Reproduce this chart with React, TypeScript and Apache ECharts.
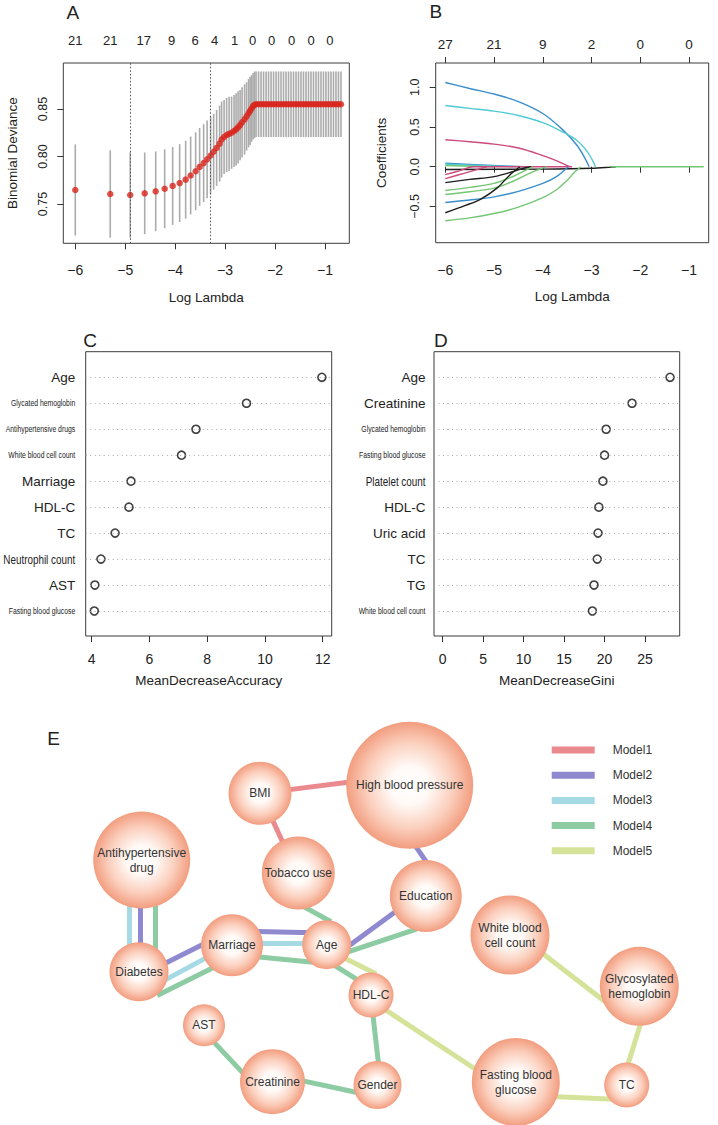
import { useEffect, useRef } from 'react';
import * as echarts from 'echarts';

const FONT = "'Liberation Sans', Arial, Helvetica, sans-serif";
const INK = '#222';

// ---------------- Panel A: cross-validated binomial deviance ----------------
const cvLogLambda = [
  -6.0, -5.3, -4.9, -4.61, -4.39, -4.21, -4.05, -3.91, -3.79, -3.69,
  -3.59, -3.51, -3.43, -3.36, -3.29, -3.23, -3.17, -3.11, -3.07, -3.02,
  -2.97, -2.92, -2.87, -2.82, -2.78, -2.74, -2.7, -2.66, -2.61, -2.57,
  -2.53, -2.5, -2.47, -2.44, -2.41,
  -2.38, -2.33, -2.28, -2.23, -2.18, -2.13, -2.08, -2.03, -1.98, -1.93,
  -1.88, -1.83, -1.78, -1.73, -1.68, -1.63, -1.58, -1.53, -1.48, -1.43,
  -1.38, -1.33, -1.28, -1.23, -1.18, -1.13, -1.08, -1.03, -0.98, -0.93,
  -0.88, -0.83, -0.78, -0.73, -0.68,
];
const cvDeviance = [
  0.7647, 0.7605, 0.7595, 0.7612, 0.7633, 0.766, 0.769, 0.772, 0.7756, 0.78,
  0.7844, 0.789, 0.793, 0.797, 0.801, 0.805, 0.809, 0.8135, 0.8179, 0.8205,
  0.8226, 0.8238, 0.825, 0.8268, 0.8285, 0.8307, 0.833, 0.836, 0.839, 0.8422,
  0.8455, 0.848, 0.8505, 0.853, 0.8545,
  0.855, 0.855, 0.855, 0.855, 0.855, 0.855, 0.855, 0.855, 0.855, 0.855,
  0.855, 0.855, 0.855, 0.855, 0.855, 0.855, 0.855, 0.855, 0.855, 0.855,
  0.855, 0.855, 0.855, 0.855, 0.855, 0.855, 0.855, 0.855, 0.855, 0.855,
  0.855, 0.855, 0.855, 0.855, 0.855,
];
const cvSE = [
  0.048, 0.046, 0.045, 0.043, 0.042, 0.0415, 0.041, 0.041, 0.041, 0.041,
  0.041, 0.041, 0.041, 0.041, 0.041, 0.04, 0.04, 0.04, 0.04, 0.039,
  0.039, 0.039, 0.038, 0.038, 0.038, 0.038, 0.037, 0.037, 0.037, 0.036,
  0.036, 0.036, 0.035, 0.035, 0.035,
  0.0345, 0.0345, 0.0345, 0.0345, 0.0345, 0.0345, 0.0345, 0.0345, 0.0345, 0.0345,
  0.0345, 0.0345, 0.0345, 0.0345, 0.0345, 0.0345, 0.0345, 0.0345, 0.0345, 0.0345,
  0.0345, 0.0345, 0.0345, 0.0345, 0.0345, 0.0345, 0.0345, 0.0345, 0.0345, 0.0345,
  0.0345, 0.0345, 0.0345, 0.0345, 0.0345,
];
const cvTopPos = [-6, -5.3, -4.63, -4.07, -3.6, -3.21, -2.81, -2.45, -2.07, -1.67, -1.28, -0.9];
const cvTopLabels = ['21', '21', '17', '9', '6', '4', '1', '0', '0', '0', '0', '0'];
const lambdaMinLog = -4.9;
const lambda1seLog = -3.29;
const logLambdaTicks = [-6, -5, -4, -3, -2, -1];
const devianceTicks = [0.75, 0.8, 0.85];

// ---------------- Panel B: coefficient paths ----------------
const coefTopPos = [-6, -5, -4, -3, -2, -1];
const coefTopLabels = ['27', '21', '9', '2', '0', '0'];
const coefTicks = [-0.5, 0, 0.5, 1];
const coefPaths: number[][][] = [
  [[-6, 1.06], [-5.5, 0.985], [-5, 0.915], [-4.5, 0.82], [-4, 0.67], [-3.6, 0.47], [-3.3, 0.27], [-3.12, 0.09], [-3.05, 0]],
  [[-6, 0.77], [-5.5, 0.735], [-5, 0.7], [-4.5, 0.645], [-4, 0.555], [-3.6, 0.44], [-3.3, 0.33], [-3.1, 0.2], [-2.98, 0.08], [-2.92, 0]],
  [[-6, 0.34], [-5.5, 0.315], [-5, 0.285], [-4.5, 0.235], [-4, 0.14], [-3.7, 0.07], [-3.52, 0.02], [-3.44, 0]],
  [[-6, 0.045], [-5.5, 0.03], [-4.8, 0.01], [-4.4, 0]],
  [[-6, 0.03], [-5.2, 0.012], [-4.6, 0]],
  [[-6, 0.015], [-5.4, 0.005], [-5, 0]],
  [[-6, -0.035], [-4, -0.03], [-3, -0.02], [-2.6, -0.005], [-2.5, 0]],
  [[-6, -0.1], [-5.7, -0.05], [-5.42, 0], [-3.4, 0]],
  [[-6, -0.15], [-5.6, -0.08], [-5.15, 0]],
  [[-6, -0.2], [-5.5, -0.16], [-5, -0.125], [-4.6, -0.06], [-4.4, -0.02], [-4.24, 0]],
  [[-6, -0.3], [-5.5, -0.26], [-5, -0.21], [-4.6, -0.12], [-4.4, -0.06], [-4.2, 0]],
  [[-6, -0.35], [-5.5, -0.315], [-5, -0.27], [-4.6, -0.18], [-4.26, -0.08], [-3.92, 0]],
  [[-6, -0.45], [-5.5, -0.42], [-5, -0.38], [-4.5, -0.31], [-4, -0.21], [-3.72, -0.125], [-3.48, 0]],
  [[-6, -0.58], [-5.6, -0.49], [-5.28, -0.41], [-4.94, -0.27], [-4.67, -0.1], [-4.47, 0]],
  [[-6, -0.68], [-5.5, -0.645], [-5, -0.59], [-4.5, -0.51], [-4, -0.39], [-3.72, -0.29], [-3.5, -0.17], [-3.35, -0.07], [-3.22, 0]],
  [[-2.6, 0], [-0.7, 0]],
];
const BLUE = '#3a8ecb', CYAN = '#4fcad2', PINK = '#cc4a7c', GREEN = '#73c673', BLACK = '#1e1e1e';
const coefColors = [BLUE, CYAN, PINK, BLUE, CYAN, GREEN, BLACK, PINK, PINK, BLACK, GREEN, GREEN, BLUE, BLACK, GREEN, GREEN];

// ---------------- Panel C: MeanDecreaseAccuracy ----------------
const accNames = ['Age', 'Glycated hemoglobin', 'Antihypertensive drugs', 'White blood cell count', 'Marriage', 'HDL-C', 'TC', 'Neutrophil count', 'AST', 'Fasting blood glucose'];
const accValues = [11.97, 9.36, 7.61, 7.11, 5.36, 5.29, 4.81, 4.32, 4.11, 4.09];
const accTicks = [4, 6, 8, 10, 12];

// ---------------- Panel D: MeanDecreaseGini ----------------
const giniNames = ['Age', 'Creatinine', 'Glycated hemoglobin', 'Fasting blood glucose', 'Platelet count', 'HDL-C', 'Uric acid', 'TC', 'TG', 'White blood cell count'];
const giniValues = [28.1, 23.4, 20.2, 20.0, 19.8, 19.3, 19.2, 19.1, 18.7, 18.5];
const giniTicks = [0, 5, 10, 15, 20, 25];

// label style classes (styles kept apart from data)
const smallLabels = new Set(['Glycated hemoglobin', 'Antihypertensive drugs', 'White blood cell count', 'Fasting blood glucose']);
const narrowLabels = new Set(['Neutrophil count', 'Platelet count']);

// ---------------- Panel E: network ----------------
const nodeNames = ['BMI', 'High blood pressure', 'Tobacco use', 'Antihypertensive drug', 'Education', 'Marriage', 'Age', 'Diabetes', 'HDL-C', 'AST', 'Creatinine', 'Gender', 'White blood cell count', 'Glycosylated hemoglobin', 'Fasting blood glucose', 'TC'];
const nodeLabels = ['BMI', 'High blood pressure', 'Tobacco use', 'Antihypertensive\ndrug', 'Education', 'Marriage', 'Age', 'Diabetes', 'HDL-C', 'AST', 'Creatinine', 'Gender', 'White blood\ncell count', 'Glycosylated\nhemoglobin', 'Fasting blood\nglucose', 'TC'];
const nodeLayout = [
  [220, 93.3], [369.7, 85.3], [258.3, 173], [101.7, 160], [385.8, 196], [192, 245.3], [286.7, 244.7], [99, 271.7],
  [331, 295], [164, 325.3], [232.5, 381.7], [337.5, 385], [470, 235], [599.3, 286.3], [475.8, 382], [586.7, 385],
];
const nodeSize = [63, 127, 73, 97, 72, 62, 49, 59, 45, 42, 65, 48, 79, 79, 88, 45];
const modelNames = ['Model1', 'Model2', 'Model3', 'Model4', 'Model5'];
const modelColors = ['#ea8a8f', '#8f89cf', '#a5d9e4', '#8dcba2', '#d4e399'];
const edges: [string, string, number][] = [
  ['BMI', 'High blood pressure', 1],
  ['BMI', 'Tobacco use', 1],
  ['High blood pressure', 'Education', 2],
  ['Antihypertensive drug', 'Diabetes', 3],
  ['Antihypertensive drug', 'Diabetes', 2],
  ['Antihypertensive drug', 'Diabetes', 4],
  ['Diabetes', 'Marriage', 2],
  ['Diabetes', 'Marriage', 3],
  ['Diabetes', 'Marriage', 4],
  ['Marriage', 'Age', 2],
  ['Marriage', 'Age', 3],
  ['Marriage', 'Age', 4],
  ['Age', 'Education', 2],
  ['Age', 'Education', 4],
  ['Age', 'HDL-C', 4],
  ['Age', 'HDL-C', 5],
  ['Tobacco use', 'Age', 4],
  ['HDL-C', 'Gender', 4],
  ['Gender', 'Creatinine', 4],
  ['Creatinine', 'AST', 4],
  ['HDL-C', 'Fasting blood glucose', 5],
  ['Fasting blood glucose', 'TC', 5],
  ['TC', 'Glycosylated hemoglobin', 5],
  ['White blood cell count', 'Glycosylated hemoglobin', 5],
];
// where each edge leaves / meets its nodes, relative to node centres (layout)
const edgeAnchors = [
  [[26.7, -3.3], [-64.7, -2.6]],
  [[13.3, 28.4], [-16.6, -33]],
  [[6.3, 61.4], [-0.8, -36]],
  [[-12.4, 47], [-9.7, -26.7]],
  [[-1, 48], [1.7, -29.7]],
  [[13.3, 46], [16, -25.7]],
  [[29.3, -10], [-30.3, -0.3]],
  [[26, 8.3], [-23.7, 11.4]],
  [[22.7, 21.6], [-22, 24]],
  [[29.7, -13.6], [-18.7, -12]],
  [[29.7, -2], [-20, -1.4]],
  [[29.7, 12], [-18.7, 17]],
  [[23.3, 0.3], [-32.5, 17.3]],
  [[21.6, 7], [-14.1, 34.7]],
  [[10, 22], [-16, -16.7]],
  [[18.3, 13.6], [0.7, -23.3]],
  [[8.4, 35.3], [0, -25.4]],
  [[2.3, 23.3], [0.8, -23.3]],
  [[-24.2, 6.7], [34.2, 0]],
  [[-30.8, -10], [11, 18]],
  [[17.3, 16.7], [-39.1, -12]],
  [[40.9, 14.7], [-11.7, 14.3]],
  [[1.6, -21.7], [4, 28.7]],
  [[36, 21], [-30, 18.7]],
];

const minus = (v: number, d: number) => (v < 0 ? '\u2212' : '') + Math.abs(v).toFixed(d);
const near = (arr: number[], v: number) => arr.findIndex((a) => Math.abs(a - v) < 1e-6);
const rowValues = accNames.map((_, i) => accNames.length - i);

const C_XMIN = 3.792, D_XMIN = -1.075;

function letters(): any[] {
  const mk = (id: string, t: string, x: number, y: number) => ({
    id, type: 'text', x, y, style: { text: t, font: `19px ${FONT}`, fill: INK, textVerticalAlign: 'middle' },
  });
  return [mk('lA', 'A', 66.5, 12), mk('lB', 'B', 429.5, 11), mk('lC', 'C', 83.3, 340), mk('lD', 'D', 434, 340), mk('lE', 'E', 47.3, 738.5)];
}

// dot-chart row labels, placed with the chart's own scales (condensed text like the R output)
function rowLabels(chart: any): any[] {
  const out: any[] = [];
  const add = (names: string[], gridIndex: number, xmin: number, gap: number, prefix: string) => {
    names.forEach((name, i) => {
      const p = chart.convertToPixel({ gridIndex }, [xmin, rowValues[i]]);
      if (!p) return;
      const small = smallLabels.has(name);
      const narrow = narrowLabels.has(name);
      out.push({
        id: `${prefix}${i}`,
        type: 'text',
        x: p[0] - gap,
        y: p[1],
        scaleX: small ? 0.72 : narrow ? 0.76 : 1,
        scaleY: 1,
        silent: true,
        style: {
          text: name,
          x: 0,
          y: 0,
          font: `${small ? 9.5 : narrow ? 13 : 13.5}px ${FONT}`,
          fill: INK,
          textAlign: 'right',
          textVerticalAlign: 'middle',
        },
      });
    });
  };
  add(accNames, 2, C_XMIN, 10.5, 'rc');
  add(giniNames, 3, D_XMIN, 8.5, 'rd');
  return out;
}

function buildOption(): any {
  const tickStyle = { show: true, length: 6, lineStyle: { color: '#333', width: 1 } };
  const gridBox = { show: true, borderColor: '#3c3c3c', borderWidth: 1, backgroundColor: 'transparent' };

  const pos = (name: string) => nodeLayout[nodeNames.indexOf(name)];
  const edgeSeries = modelNames.map((m, mi) => {
    const data: any[] = [];
    edges.forEach(([s, t, model], ei) => {
      if (model !== mi + 1) return;
      const ps = pos(s), pt = pos(t);
      const [a, b] = edgeAnchors[ei];
      const x1 = ps[0] + a[0], y1 = ps[1] + a[1];
      const x2 = pt[0] + b[0], y2 = pt[1] + b[1];
      const L = Math.hypot(x2 - x1, y2 - y1) || 1;
      const ux = (x2 - x1) / L, uy = (y2 - y1) / L;
      data.push({ coords: [[x1 - 5 * ux, y1 - 5 * uy], [x2 + 5 * ux, y2 + 5 * uy]] });
    });
    return {
      name: m,
      type: 'lines',
      coordinateSystem: 'cartesian2d',
      xAxisIndex: 6,
      yAxisIndex: 4,
      z: 2,
      silent: true,
      itemStyle: { color: modelColors[mi] },
      lineStyle: { color: modelColors[mi], width: 5, opacity: 1, curveness: 0 },
      data,
    };
  });

  const nodeGradient = new echarts.graphic.RadialGradient(0.5, 0.5, 0.5, [
    { offset: 0, color: '#ffffff' },
    { offset: 0.3, color: '#fffaf7' },
    { offset: 0.68, color: '#fbcfbd' },
    { offset: 1, color: '#f29d7f' },
  ]);

  return {
    animation: false,
    backgroundColor: '#ffffff',
    textStyle: { fontFamily: FONT, color: INK },
    grid: [
      { left: 63.3, top: 63, width: 286, height: 180.3, ...gridBox },
      { left: 435.7, top: 63, width: 273, height: 179.7, ...gridBox },
      { left: 85.7, top: 351.7, width: 246, height: 284.3, ...gridBox },
      { left: 434, top: 351.7, width: 245.7, height: 284.3, ...gridBox },
      { left: 40, top: 700, width: 660, height: 425, show: false },
    ],
    xAxis: [
      {
        gridIndex: 0, type: 'value', min: -6.24, max: -0.513,
        name: 'Log Lambda', nameLocation: 'middle', nameGap: 47,
        nameTextStyle: { fontSize: 13.5, color: INK },
        axisLine: { show: false }, splitLine: { show: false },
        axisTick: { ...tickStyle, customValues: logLambdaTicks },
        axisLabel: { customValues: logLambdaTicks, formatter: (v: number) => minus(v, 0), fontSize: 14, color: INK, margin: 20 },
      },
      {
        gridIndex: 0, type: 'value', position: 'top', min: -6.24, max: -0.513,
        axisLine: { show: false }, axisTick: { show: false }, splitLine: { show: false },
        axisLabel: {
          customValues: cvTopPos, fontSize: 13, color: INK, margin: 16,
          formatter: (v: number) => cvTopLabels[near(cvTopPos, v)] ?? '',
        },
      },
      {
        gridIndex: 1, type: 'value', min: -6.197, max: -0.597,
        name: 'Log Lambda', nameLocation: 'middle', nameGap: 47,
        nameTextStyle: { fontSize: 13.5, color: INK },
        axisLine: { show: false }, splitLine: { show: false },
        axisTick: { ...tickStyle, customValues: logLambdaTicks },
        axisLabel: { customValues: logLambdaTicks, formatter: (v: number) => minus(v, 0), fontSize: 14, color: INK, margin: 20 },
      },
      {
        gridIndex: 1, type: 'value', position: 'top', min: -6.197, max: -0.597,
        axisLine: { show: false }, splitLine: { show: false },
        axisTick: { ...tickStyle, customValues: coefTopPos },
        axisLabel: {
          customValues: coefTopPos, fontSize: 13.5, color: INK, margin: 12,
          formatter: (v: number) => coefTopLabels[near(coefTopPos, v)] ?? '',
        },
      },
      {
        gridIndex: 2, type: 'value', min: C_XMIN, max: 12.31,
        name: 'MeanDecreaseAccuracy', nameLocation: 'middle', nameGap: 37,
        nameTextStyle: { fontSize: 13.5, color: INK },
        axisLine: { show: false }, splitLine: { show: false },
        axisTick: { ...tickStyle, customValues: accTicks },
        axisLabel: { customValues: accTicks, fontSize: 14, color: INK, margin: 16 },
      },
      {
        gridIndex: 3, type: 'value', min: D_XMIN, max: 29.29,
        name: 'MeanDecreaseGini', nameLocation: 'middle', nameGap: 37,
        nameTextStyle: { fontSize: 13.5, color: INK },
        axisLine: { show: false }, splitLine: { show: false },
        axisTick: { ...tickStyle, customValues: giniTicks },
        axisLabel: { customValues: giniTicks, fontSize: 14, color: INK, margin: 16 },
      },
      { gridIndex: 4, type: 'value', min: 0, max: 660, show: false },
    ],
    yAxis: [
      {
        gridIndex: 0, type: 'value', min: 0.7086, max: 0.8984,
        name: 'Binomial Deviance', nameLocation: 'middle', nameGap: 44,
        nameTextStyle: { fontSize: 13.5, color: INK },
        axisLine: { show: false }, splitLine: { show: false },
        axisTick: { ...tickStyle, customValues: devianceTicks },
        axisLabel: { customValues: devianceTicks, rotate: 90, formatter: (v: number) => v.toFixed(2), fontSize: 12.5, color: INK, margin: 14 },
      },
      {
        gridIndex: 1, type: 'value', min: -0.957, max: 1.306,
        name: 'Coefficients', nameLocation: 'middle', nameGap: 47,
        nameTextStyle: { fontSize: 13.5, color: INK },
        axisLine: { show: false }, splitLine: { show: false },
        axisTick: { ...tickStyle, customValues: coefTicks },
        axisLabel: { customValues: coefTicks, rotate: 90, formatter: (v: number) => minus(v, 1), fontSize: 12.5, color: INK, margin: 14 },
      },
      {
        gridIndex: 2, type: 'value', min: 0.037, max: 10.986,
        axisLine: { show: false }, splitLine: { show: false }, axisTick: { show: false }, axisLabel: { show: false },
      },
      {
        gridIndex: 3, type: 'value', min: 0.037, max: 10.986,
        axisLine: { show: false }, splitLine: { show: false }, axisTick: { show: false }, axisLabel: { show: false },
      },
      { gridIndex: 4, type: 'value', min: 0, max: 425, inverse: true, show: false },
    ],
    legend: {
      data: modelNames.map((m, i) => ({ name: m, itemStyle: { color: modelColors[i] } })),
      orient: 'vertical',
      left: 546.7,
      top: 738,
      icon: 'rect',
      itemWidth: 41,
      itemHeight: 5,
      itemGap: 11.2,
      selectedMode: false,
      textStyle: { fontSize: 12, color: '#333', lineHeight: 14, padding: [0, 0, 0, 14] },
    },
    graphic: { elements: letters() },
    series: [
      // A: error bars
      {
        type: 'custom',
        xAxisIndex: 0, yAxisIndex: 0, z: 1, silent: true,
        data: cvLogLambda.map((l, i) => [l, cvDeviance[i] + cvSE[i], cvDeviance[i] - cvSE[i]]),
        renderItem: (_p: any, api: any) => {
          const a = api.coord([api.value(0), api.value(1)]);
          const b = api.coord([api.value(0), api.value(2)]);
          return { type: 'line', shape: { x1: a[0], y1: a[1], x2: b[0], y2: b[1] }, style: { stroke: '#ababab', lineWidth: 1.6 } };
        },
      },
      // A: lambda.min / lambda.1se guides
      {
        type: 'scatter', xAxisIndex: 0, yAxisIndex: 0, z: 2, symbolSize: 0, silent: true,
        data: [[lambdaMinLog, 0.8], [lambda1seLog, 0.8]],
        markLine: {
          silent: true, symbol: 'none', label: { show: false },
          lineStyle: { color: '#555', type: [1.5, 2], width: 1 },
          data: [{ xAxis: lambdaMinLog }, { xAxis: lambda1seLog }],
        },
      },
      // A: mean deviance points
      {
        type: 'scatter', xAxisIndex: 0, yAxisIndex: 0, z: 3, silent: true,
        symbolSize: 6.5,
        itemStyle: { color: '#d8241b' },
        data: cvLogLambda.map((l, i) => [l, cvDeviance[i]]),
      },
      // B: coefficient paths
      ...coefPaths.map((pts, i) => ({
        type: 'line', xAxisIndex: 2, yAxisIndex: 1, z: 2, silent: true,
        showSymbol: false, symbol: 'none', smooth: 0.35,
        lineStyle: { color: coefColors[i], width: 1.4 },
        data: pts,
      })),
      // C: guides + points
      {
        type: 'scatter', xAxisIndex: 4, yAxisIndex: 2, z: 1, symbolSize: 0, silent: true,
        data: accValues.map((v, i) => [v, rowValues[i]]),
        markLine: {
          silent: true, symbol: 'none', label: { show: false },
          lineStyle: { color: '#a8a8a8', type: [1, 3.5], width: 1 },
          data: rowValues.map((r) => ({ yAxis: r })),
        },
      },
      {
        type: 'scatter', xAxisIndex: 4, yAxisIndex: 2, z: 3, silent: true,
        symbolSize: 8,
        itemStyle: { color: '#ffffff', borderColor: '#111', borderWidth: 1.6 },
        data: accValues.map((v, i) => [v, rowValues[i]]),
      },
      // D: guides + points
      {
        type: 'scatter', xAxisIndex: 5, yAxisIndex: 3, z: 1, symbolSize: 0, silent: true,
        data: giniValues.map((v, i) => [v, rowValues[i]]),
        markLine: {
          silent: true, symbol: 'none', label: { show: false },
          lineStyle: { color: '#a8a8a8', type: [1, 3.5], width: 1 },
          data: rowValues.map((r) => ({ yAxis: r })),
        },
      },
      {
        type: 'scatter', xAxisIndex: 5, yAxisIndex: 3, z: 3, silent: true,
        symbolSize: 8,
        itemStyle: { color: '#ffffff', borderColor: '#111', borderWidth: 1.6 },
        data: giniValues.map((v, i) => [v, rowValues[i]]),
      },
      // E: edges per model
      ...edgeSeries,
      // E: nodes
      {
        type: 'scatter', xAxisIndex: 6, yAxisIndex: 4, z: 4, silent: true,
        itemStyle: { color: nodeGradient, opacity: 1 },
        label: {
          show: true, position: 'inside', fontSize: 12, color: '#333', lineHeight: 15,
          formatter: (p: any) => nodeLabels[p.dataIndex],
        },
        data: nodeNames.map((n, i) => ({ name: n, value: nodeLayout[i], symbolSize: nodeSize[i] })),
      },
    ],
  };
}

export default function App() {
  const ref = useRef<HTMLDivElement>(null);
  useEffect(() => {
    if (!ref.current) return;
    const chart = echarts.init(ref.current, null, { renderer: 'svg' });
    chart.setOption(buildOption());
    chart.setOption({ graphic: { elements: [...letters(), ...rowLabels(chart)] } });
    return () => chart.dispose();
  }, []);
  return (
    <div
      ref={ref}
      style={{ position: 'absolute', left: 0, top: 0, width: 718, height: 1125, background: '#fff' }}
    />
  );
}
